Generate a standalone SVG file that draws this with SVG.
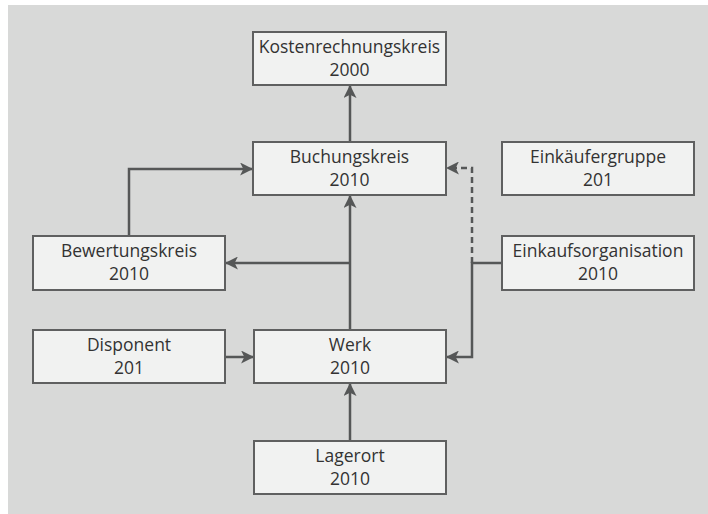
<svg xmlns="http://www.w3.org/2000/svg" width="708" height="514" viewBox="0 0 708 514">
<defs>
<style>
.box rect{fill:#f1f2f1;stroke:#5f6060;stroke-width:2}
.box text{font-family:"Open Sans","Noto Sans",sans-serif;font-size:17.5px;fill:#333;text-anchor:middle}
.c{fill:none;stroke:#555757;stroke-width:2.5}
.d{stroke-dasharray:6 4}
</style>
<marker id="a" viewBox="0 0 12 12" refX="11" refY="6" markerWidth="13" markerHeight="13" markerUnits="userSpaceOnUse" orient="auto">
<path d="M0,0 L12,6 L0,12 L3,6 Z" fill="#555757"/>
</marker>
</defs>
<rect x="8" y="5" width="700" height="509" fill="#d8d9d8"/>
<g id="connectors">
<path class="c" d="M350,142 V86" marker-end="url(#a)"/>
<path class="c" d="M129,236 V169 H252" marker-end="url(#a)"/>
<path class="c" d="M350,330 V196" marker-end="url(#a)"/>
<path class="c" d="M350,263 H226" marker-end="url(#a)"/>
<path class="c" d="M225,357 H253" marker-end="url(#a)"/>
<path class="c" d="M350,441 V384" marker-end="url(#a)"/>
<path class="c" d="M502,263 H472 V357 H447" marker-end="url(#a)"/>
<path class="c d" d="M472,263 V168 H447" marker-end="url(#a)"/>
</g>
<g id="kostenrechnungskreis" class="box"><rect x="253" y="32" width="193" height="53"/><text x="349.5" y="52.5">Kostenrechnungskreis</text><text x="349.5" y="75.5">2000</text></g>
<g id="buchungskreis" class="box"><rect x="253" y="142" width="193" height="53"/><text x="349.5" y="162.5">Buchungskreis</text><text x="349.5" y="185.5">2010</text></g>
<g id="einkaeufergruppe" class="box"><rect x="502" y="142" width="192" height="53"/><text x="598" y="162.5">Einkäufergruppe</text><text x="598" y="185.5">201</text></g>
<g id="bewertungskreis" class="box"><rect x="33" y="236" width="192" height="54"/><text x="129" y="256.5">Bewertungskreis</text><text x="129" y="279.5">2010</text></g>
<g id="einkaufsorganisation" class="box"><rect x="502" y="236" width="192" height="54"/><text x="598" y="256.5">Einkaufsorganisation</text><text x="598" y="279.5">2010</text></g>
<g id="disponent" class="box"><rect x="33" y="330" width="192" height="53"/><text x="129" y="350.5">Disponent</text><text x="129" y="373.5">201</text></g>
<g id="werk" class="box"><rect x="254" y="330" width="192" height="53"/><text x="350" y="350.5">Werk</text><text x="350" y="373.5">2010</text></g>
<g id="lagerort" class="box"><rect x="254" y="441" width="192" height="53"/><text x="350" y="461.5">Lagerort</text><text x="350" y="484.5">2010</text></g>
</svg>
